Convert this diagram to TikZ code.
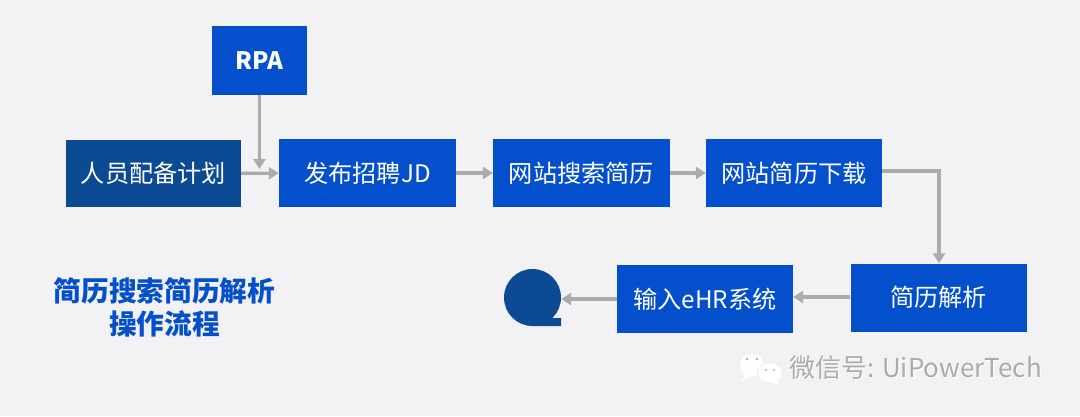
\documentclass[tikz,border=0pt]{standalone}
\usepackage{fontspec}
\setmainfont{Noto Sans CJK SC}
\usetikzlibrary{arrows.meta}
\definecolor{bgc}{HTML}{F2F2F4}
\definecolor{bluec}{HTML}{0450CC}
\definecolor{darkc}{HTML}{0C4A94}
\definecolor{linec}{HTML}{ABABAB}
\tikzset{
  flowbox/.style={fill=bluec,text=white,inner sep=0pt,font=\fontsize{24.2}{28}\selectfont},
  darkbox/.style={flowbox,fill=darkc},
  flowline/.style={draw=linec,line width=3.4pt,-{Triangle[length=10pt,width=12pt]}},
  titletext/.style={text=bluec,font=\bfseries\fontsize{27.7}{33}\selectfont,align=center,inner sep=0pt},
  marktext/.style={font=\fontsize{26}{28}\selectfont,inner sep=0pt,anchor=west}
}
\begin{document}
\begin{tikzpicture}[x=1pt,y=-1pt]
\useasboundingbox (0,0) rectangle (1080,416);
\fill[bgc] (0,0) rectangle (1080,416);
\node[flowbox,minimum width=95pt,minimum height=69pt,font=\bfseries\fontsize{24}{28}\selectfont] (rpa) at (259.5,60.5) {RPA};
\node[darkbox,minimum width=175pt,minimum height=67pt] (plan) at (153.5,173.5) {人员配备计划};
\node[flowbox,minimum width=177pt,minimum height=68pt] (pub) at (367.5,173) {发布招聘JD};
\node[flowbox,minimum width=177pt,minimum height=68pt] (search) at (581.5,173) {网站搜索简历};
\node[flowbox,minimum width=176pt,minimum height=68pt] (down) at (794,173) {网站简历下载};
\node[flowbox,minimum width=176pt,minimum height=68pt] (parse) at (938.5,297.5) {简历解析};
\node[flowbox,minimum width=176pt,minimum height=68pt] (input) at (705,299) {输入eHR系统};
\node[circle,fill=darkc,minimum size=57pt,inner sep=0pt] (endq) at (532.5,297.5) {};
\fill[darkc] (532.5,326) -- (561,326) -- (561,318) -- (550,318) -- (540,300) -- cycle;
\node[titletext] (title) at (164.5,307) {简历搜索简历解析\\操作流程};
\coordinate (join) at (259.5,169);
\draw[flowline] (plan) -- (pub);
\draw[flowline] (rpa.south) -- (join);
\draw[flowline] (pub) -- (search);
\draw[flowline] (search) -- (down);
\coordinate (bend) at (939,171);
\draw[flowline] (down.east |- bend) -- (bend) -- (parse.north -| bend);
\draw[flowline] (parse.west |- 0,297) -- (input.east |- 0,297);
\draw[flowline] (input.west) -- (endq.east |- input.west);
% watermark
\fill[white] (752,365) ellipse (12pt and 11pt);
\fill[white] (745,373) -- (741,382) -- (753,375) -- cycle;
\fill[bgc] (770,373) ellipse (13pt and 11pt);
\fill[white] (770,373) ellipse (11.5pt and 9.5pt);
\fill[white] (776,380) -- (780,385) -- (770,382) -- cycle;
\fill[linec] (747,359) circle (1.3pt) (757,359) circle (1.3pt) (766,370) circle (1.1pt) (774,370) circle (1.1pt);
\node[marktext,text=white] (markshadow) at (790,369) {微信号: UiPowerTech};
\node[marktext,text=linec] (mark) at (789,368) {微信号: UiPowerTech};
\end{tikzpicture}
\end{document}
